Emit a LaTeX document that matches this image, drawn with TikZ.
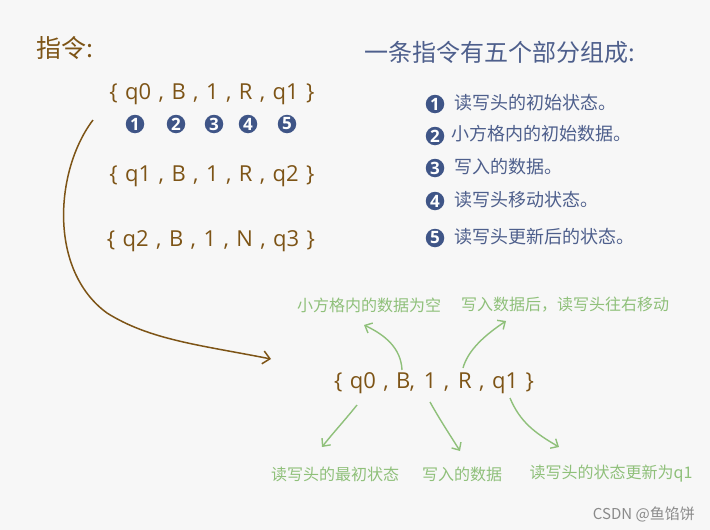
\documentclass[tikz,border=0pt]{standalone}
\usepackage{fontspec}
\setmainfont{Noto Sans CJK SC}
\newfontfamily\latf[WordSpace=1.3]{Open Sans}
\usetikzlibrary{arrows.meta}
\definecolor{bg}{HTML}{F7F7F7}
\definecolor{brn}{HTML}{7D5416}
\definecolor{ttl}{HTML}{4E5F8C}
\definecolor{cir}{HTML}{3F5587}
\definecolor{grn}{HTML}{8FC07A}
\definecolor{wm}{HTML}{8A8A8A}
\tikzset{
  formula/.style={text=brn, font=\latf\fontsize{22}{24}\selectfont, inner sep=0pt},
  numdot/.style={circle, fill=cir, text=white, inner sep=0pt, minimum size=18.5pt, font=\latf\fontsize{17}{18}\selectfont\bfseries},
  listtxt/.style={text=ttl, font=\fontsize{18}{20}\selectfont, anchor=west, inner sep=0pt},
  glabel/.style={text=grn, font=\fontsize{16}{18}\selectfont, inner sep=0pt},
  garrow/.style={draw=grn, line width=1.4pt, -{Straight Barb[length=6pt,width=11pt]}},
  barrow/.style={draw=brn, line width=1.5pt, -{Straight Barb[length=7pt,width=13pt]}},
}
\begin{document}
\begin{tikzpicture}[x=1pt,y=-1pt]
\fill[bg] (0,0) rectangle (710,530);
\useasboundingbox (0,0) rectangle (710,530);

\node[text=brn, font=\fontsize{25}{27}\selectfont, anchor=west, inner sep=0pt] (zl) at (36,48) {指令:};
\node[formula] (f1) at (212,94) {\{ q0 , B , 1 , R , q1 \}};
\node[numdot] (c1) at (135,124) {1};
\node[numdot] (c2) at (176,124) {2};
\node[numdot] (c3) at (214,124) {3};
\node[numdot] (c4) at (248,124) {4};
\node[numdot] (c5) at (287,124) {5};
\node[formula] (f2) at (212,176) {\{ q1 , B , 1 , R , q2 \}};
\node[formula] (f3) at (211,241) {\{ q2 , B , 1 , N , q3 \}};

\node[text=ttl, font=\fontsize{24}{26}\selectfont, anchor=west, inner sep=0pt] (title) at (364,52) {一条指令有五个部分组成:};
\node[numdot] (l1) at (435,104) {1};
\node[listtxt] (t1) at (454,103) {读写头的初始状态。};
\node[numdot] (l2) at (435,136) {2};
\node[listtxt] (t2) at (451,134) {小方格内的初始数据。};
\node[numdot] (l3) at (435,168) {3};
\node[listtxt] (t3) at (454,167) {写入的数据。};
\node[numdot] (l4) at (435,201) {4};
\node[listtxt] (t4) at (454,200) {读写头移动状态。};
\node[numdot] (l5) at (435,238) {5};
\node[listtxt] (t5) at (454,237) {读写头更新后的状态。};

\node[glabel] (g1) at (369,305) {小方格内的数据为空};
\node[glabel] (g2) at (565,305) {写入数据后，读写头往右移动};
\node[formula] (fb) at (434,383) {\{ q0 , B,\ \kern1.5pt1 ,\ \kern1.5pt R , q1 \}};
\node[glabel] (g3) at (335,474) {读写头的最初状态};
\node[glabel] (g4) at (462,474) {写入的数据};
\node[glabel] (g5) at (611,474) {读写头的状态更新为q1};
\node[text=wm, font=\fontsize{15}{17}\selectfont, anchor=east, inner sep=0pt] (wmk) at (695,514) {CSDN @鱼馅饼};

\coordinate (bs) at (93,120);
\coordinate (be) at (271,359);
\draw[barrow] (bs) .. controls (55,170) and (48,270) .. (107,313) .. controls (150,340) and (200,345) .. (be);

\coordinate (u1s) at (402,370);
\coordinate (u1e) at (364,325);
\coordinate (u2s) at (463,368);
\coordinate (u2e) at (506,321);
\coordinate (d1s) at (357,405);
\coordinate (d1e) at (322,447);
\coordinate (d2s) at (430,402);
\coordinate (d2e) at (460,451);
\coordinate (d3s) at (510,398);
\coordinate (d3e) at (559,447);
\draw[garrow] (u1s) .. controls (401,348) and (385,335) .. (u1e);
\draw[garrow] (u2s) .. controls (468,350) and (485,335) .. (u2e);
\draw[garrow] (d1s) .. controls (345,420) and (333,433) .. (d1e);
\draw[garrow] (d2s) .. controls (440,420) and (450,435) .. (d2e);
\draw[garrow] (d3s) .. controls (520,422) and (535,433) .. (d3e);
\end{tikzpicture}
\end{document}
